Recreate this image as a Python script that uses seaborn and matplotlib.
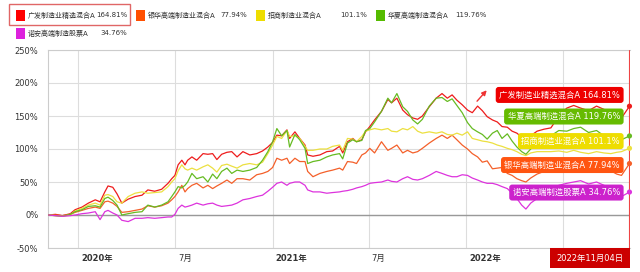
import matplotlib
matplotlib.use("Agg")
import matplotlib.pyplot as plt
import seaborn as sns
import pandas as pd
from matplotlib.patches import Rectangle
from matplotlib.transforms import ScaledTranslation

# ---------------- data ----------------
dates = [
    "2019-11-06", "2019-11-19", "2019-12-02", "2019-12-17", "2019-12-26",
    "2020-01-08", "2020-01-20", "2020-02-02", "2020-02-11", "2020-02-20",
    "2020-02-26", "2020-03-06", "2020-03-14", "2020-03-23", "2020-04-04",
    "2020-04-17", "2020-04-30", "2020-05-11", "2020-05-24", "2020-06-06",
    "2020-06-18", "2020-06-25", "2020-07-01", "2020-07-07", "2020-07-14",
    "2020-07-20", "2020-07-25", "2020-08-02", "2020-08-11", "2020-08-23",
    "2020-09-01", "2020-09-10", "2020-09-18", "2020-09-27", "2020-10-07",
    "2020-10-16", "2020-10-26", "2020-11-06", "2020-11-19", "2020-12-02",
    "2020-12-13", "2020-12-23", "2021-01-01", "2021-01-09", "2021-01-18",
    "2021-01-28", "2021-02-02", "2021-02-12", "2021-02-21", "2021-03-03",
    "2021-03-08", "2021-03-18", "2021-03-31", "2021-04-13", "2021-04-24",
    "2021-05-07", "2021-05-13", "2021-05-22", "2021-06-01", "2021-06-08",
    "2021-06-18", "2021-06-25", "2021-07-03", "2021-07-12", "2021-07-25",
    "2021-08-06", "2021-08-13", "2021-08-23", "2021-09-03", "2021-09-12",
    "2021-09-22", "2021-10-01", "2021-10-10", "2021-10-23", "2021-11-05",
    "2021-11-16", "2021-11-26", "2021-12-05", "2021-12-14", "2021-12-24",
    "2022-01-03", "2022-01-12", "2022-01-22", "2022-01-31", "2022-02-09",
    "2022-02-19", "2022-02-28", "2022-03-09", "2022-03-19", "2022-03-28",
    "2022-04-06", "2022-04-15", "2022-04-23", "2022-05-02", "2022-05-14",
    "2022-05-27", "2022-06-09", "2022-06-24", "2022-07-09", "2022-07-22",
    "2022-08-04", "2022-08-19", "2022-09-03", "2022-09-17", "2022-09-30",
    "2022-10-11", "2022-10-20", "2022-11-04",
]

fund_names = ["广发制造业精选混合A", "银华高端制造业混合A", "招商制造业混合A",
              "华夏高端制造混合A", "诺安高端制造股票A"]
final_values = ["164.81%", "77.94%", "101.1%", "119.76%", "34.76%"]

guangfa = [0, 1, -1, 2, 8, 12, 18, 23, 20, 35, 44, 42, 32, 18, 24, 28, 30, 38, 36, 39,
           48, 55, 60, 76, 83, 76, 83, 88, 83, 93, 92, 93, 84, 92, 95, 96, 88, 96, 91, 93,
           97, 103, 110, 121, 120, 129, 116, 126, 116, 106, 91, 89, 91, 96, 97, 104, 94, 111, 116, 111,
           114, 126, 134, 144, 157, 175, 170, 177, 159, 152, 147, 145, 150, 164, 177, 184, 177, 182, 174, 167,
           159, 155, 165, 158, 149, 144, 141, 134, 133, 127, 124, 118, 112, 120, 127, 130, 132, 150, 162, 166,
           162, 158, 165, 160, 155, 150, 147, 164.81]
yinhua = [0, 0, -1, 1, 4, 7, 10, 12, 10, 20, 21, 18, 13, 4, 5, 7, 9, 14, 12, 14,
          18, 23, 28, 35, 45, 35, 40, 45, 48, 41, 45, 40, 44, 48, 53, 48, 55, 55, 53, 61,
          63, 66, 72, 86, 83, 86, 78, 86, 81, 81, 66, 58, 63, 66, 68, 71, 68, 81, 80, 78,
          91, 94, 101, 94, 111, 98, 101, 106, 94, 98, 94, 96, 101, 109, 116, 121, 116, 121, 114, 106,
          100, 93, 88, 80, 82, 70, 71, 72, 63, 60, 55, 52, 50, 56, 62, 66, 70, 80, 77, 82,
          79, 73, 78, 72, 67, 62, 60, 77.94]
zhaoshang = [0, -1, -2, 0, 6, 10, 15, 18, 15, 30, 31, 28, 20, 18, 28, 33, 35, 33, 34, 35,
             43, 50, 55, 67, 76, 70, 68, 71, 68, 73, 76, 71, 65, 75, 77, 74, 71, 76, 78, 76,
             80, 93, 106, 119, 116, 128, 119, 120, 116, 104, 98, 98, 100, 100, 104, 106, 98, 116, 115, 111,
             119, 127, 129, 131, 129, 131, 127, 126, 131, 129, 134, 127, 124, 126, 124, 126, 122, 121, 124, 121,
             126, 116, 114, 112, 111, 109, 106, 104, 101, 99, 96, 92, 90, 94, 96, 96, 96, 97, 95, 98,
             95, 93, 96, 94, 93, 95, 96, 101.1]
huaxia = [0, -1, -2, 1, 5, 8, 13, 14, 12, 25, 27, 22, 15, 0, 2, 4, 5, 15, 12, 15,
          20, 28, 35, 43, 41, 45, 50, 63, 55, 58, 50, 62, 55, 66, 71, 63, 68, 66, 68, 72,
          83, 96, 111, 131, 120, 128, 103, 122, 114, 101, 78, 81, 83, 88, 91, 93, 85, 109, 114, 111,
          113, 128, 131, 141, 157, 177, 170, 184, 164, 157, 144, 138, 145, 165, 177, 178, 172, 176, 166, 155,
          140, 131, 126, 122, 115, 124, 128, 116, 123, 112, 103, 96, 92, 100, 108, 115, 120, 128, 127, 131,
          133, 125, 128, 120, 115, 112, 114, 119.76]
nuoan = [0, -1, -2, -1, 0, 2, 3, 5, -7, 5, 7, 3, 0, -8, -10, -5, -5, -4, -5, -4,
         -3, -3, 1, 10, 15, 12, 13, 15, 18, 15, 17, 18, 15, 13, 14, 15, 18, 23, 25, 28,
         30, 36, 42, 48, 50, 45, 48, 50, 50, 45, 38, 35, 35, 33, 34, 35, 36, 37, 39, 41,
         43, 45, 48, 49, 50, 53, 51, 50, 55, 58, 54, 53, 55, 60, 66, 63, 60, 58, 58, 61,
         60, 56, 53, 50, 48, 48, 46, 43, 40, 33, 25, 15, 9, 18, 25, 32, 38, 45, 48, 50,
         52, 47, 50, 45, 40, 34, 28, 34.76]

series = [guangfa, yinhua, zhaoshang, huaxia, nuoan]
line_colors = ["#ee1c1c", "#f4602a", "#ece040", "#66bb22", "#dd33dd"]
legend_colors = ["#ff0000", "#ff4f00", "#eedd00", "#55bb00", "#dd22dd"]
label_colors = ["#ee0000", "#66bb00", "#eedd00", "#ff5511", "#cc22cc"]

x_tick_dates = ["2020-01-01", "2020-07-01", "2021-01-01", "2021-07-01", "2022-01-01", "2022-07-01"]
x_tick_labels = ["2020年", "7月", "2021年", "7月", "2022年", ""]
y_ticks = [-50, 0, 50, 100, 150, 200, 250]

# ---------------- style ----------------
sns.set_style("white")
plt.rcParams['font.family'] = ['DejaVu Sans', 'Noto Sans CJK SC']

W, H = 640, 272
fig = plt.figure(figsize=(W / 100, H / 100), dpi=100)
ax = fig.add_axes([48 / W, 1 - 248 / H, (630 - 48) / W, (248 - 50) / H])

df = pd.DataFrame({"date": pd.to_datetime(dates)})
for name, vals in zip(fund_names, series):
    df[name] = vals
long = df.melt(id_vars="date", var_name="fund", value_name="value")
palette = dict(zip(fund_names, line_colors))

sns.lineplot(data=long, x="date", y="value", hue="fund", palette=palette,
             linewidth=0.9, legend=False, ax=ax, zorder=3)

last = long[long["date"] == long["date"].max()]
sns.scatterplot(data=last, x="date", y="value", hue="fund", palette=palette,
                s=14, edgecolor="none", legend=False, ax=ax, zorder=7, clip_on=False)

ax.set_xlim(pd.Timestamp("2019-11-05"), pd.Timestamp("2022-11-05"))
ax.set_ylim(-50, 250)
ax.set_yticks(y_ticks)
ax.set_yticklabels([f"{v}%" for v in y_ticks])
ax.set_xticks(pd.to_datetime(x_tick_dates))
ax.set_xticklabels(x_tick_labels)
ax.set_xlabel("")
ax.set_ylabel("")

ax.grid(True, color="#dddddd", linewidth=0.8)
ax.set_axisbelow(True)
ax.axhline(0, color="#999999", linewidth=1.0, zorder=2)
ax.axvline(pd.Timestamp(dates[-1]), color="#ee4444", linewidth=0.8, zorder=6)
for side in ["left", "bottom", "top"]:
    ax.spines[side].set_color("#cccccc")
    ax.spines[side].set_linewidth(0.8)
ax.spines["right"].set_visible(False)

ax.tick_params(axis="both", length=0, labelsize=6, colors="#333333")
ax.tick_params(axis="y", pad=7)
ax.tick_params(axis="x", pad=4)
offset = ScaledTranslation(3 / 100, 0, fig.dpi_scale_trans)
for lab in ax.get_xticklabels():
    lab.set_horizontalalignment("left")
    lab.set_transform(lab.get_transform() + offset)
    if "年" in lab.get_text():
        lab.set_fontweight("bold")

# ---------------- end labels ----------------
label_order = [0, 3, 2, 1, 4]
label_y = [0.773, 0.664, 0.540, 0.419, 0.280]
for lc, idx, yy in zip(label_colors, label_order, label_y):
    ax.text(0.983, yy, f"{fund_names[idx]} {final_values[idx]}", transform=ax.transAxes,
            ha="right", va="center", color="white", fontsize=6, zorder=8,
            bbox=dict(boxstyle="round,pad=0.42,rounding_size=0.35", fc=lc, ec="none"))
ax.annotate("", xy=(0.757, 0.807), xytext=(0.734, 0.731), xycoords="axes fraction",
            arrowprops=dict(arrowstyle="-|>", color="#ee3333", lw=1.0, mutation_scale=7),
            zorder=8)

# ---------------- date box ----------------
fig.patches.append(Rectangle((550 / W, 4 / H), 80 / W, 20 / H, transform=fig.transFigure,
                             fc="#cc0000", ec="none", zorder=10))
fig.text(590 / W, 14 / H, "2022年11月04日", ha="center", va="center", color="white",
         fontsize=6, zorder=11)

# ---------------- legend ----------------
sq_x = [16, 136, 256, 376, 16]
row_y = [15, 15, 15, 15, 33]
name_x = [28, 148, 268, 388, 28]
val_x = [96, 220, 340, 455, 100]
for i in range(5):
    fig.patches.append(Rectangle((sq_x[i] / W, 1 - (row_y[i] + 5.5) / H), 9 / W, 11 / H,
                                 transform=fig.transFigure, fc=legend_colors[i], ec="none"))
    fig.text(name_x[i] / W, 1 - row_y[i] / H, fund_names[i], ha="left", va="center",
             fontsize=5, color="#333333")
    fig.text(val_x[i] / W, 1 - row_y[i] / H, final_values[i], ha="left", va="center",
             fontsize=5, color="#333333")
fig.patches.append(Rectangle((9 / W, 1 - 25 / H), 121 / W, 21 / H, transform=fig.transFigure,
                             fc="none", ec="#e06666", lw=1.0))

fig.savefig("out.png", dpi=100)
